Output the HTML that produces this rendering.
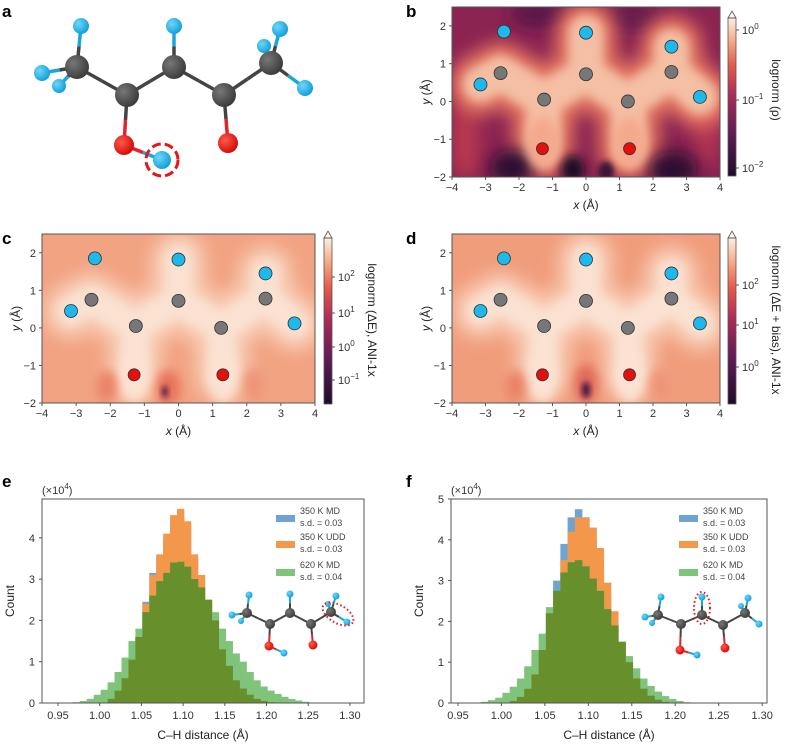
<!DOCTYPE html>
<html><head><meta charset="utf-8">
<style>
body{margin:0;background:#fff;}
svg{display:block;font-family:"Liberation Sans",sans-serif;}
.tk{font-size:11px;fill:#333;}
.ttl{font-size:12px;fill:#222;}
.pl{font-size:17px;font-weight:bold;fill:#000;}
.lg{font-size:9px;fill:#444;}
</style></head>
<body>
<svg id="fig" width="788" height="746" viewBox="0 0 788 746" xmlns="http://www.w3.org/2000/svg">
<defs>
  <filter id="blur8" x="-50%" y="-50%" width="200%" height="200%"><feGaussianBlur stdDeviation="8"/></filter>
  <filter id="blur5" x="-50%" y="-50%" width="200%" height="200%"><feGaussianBlur stdDeviation="5"/></filter>
  <filter id="blur3" x="-50%" y="-50%" width="200%" height="200%"><feGaussianBlur stdDeviation="3"/></filter>
  <linearGradient id="cbB" x1="0" y1="1" x2="0" y2="0">
    <stop offset="0" stop-color="#1e0c2c"/><stop offset="0.25" stop-color="#5a1a55"/>
    <stop offset="0.5" stop-color="#a82a58"/><stop offset="0.7" stop-color="#e45a4c"/>
    <stop offset="0.85" stop-color="#f6a884"/><stop offset="1" stop-color="#fcefe4"/>
  </linearGradient>
  <radialGradient id="hG" cx="0.35" cy="0.35" r="0.7"><stop offset="0" stop-color="#6fd6ff"/><stop offset="1" stop-color="#0f9ed3"/></radialGradient>
  <radialGradient id="cG" cx="0.35" cy="0.35" r="0.7"><stop offset="0" stop-color="#777"/><stop offset="1" stop-color="#3a3a3a"/></radialGradient>
  <radialGradient id="oG" cx="0.35" cy="0.35" r="0.7"><stop offset="0" stop-color="#ff5a4a"/><stop offset="1" stop-color="#d00a05"/></radialGradient>
  <clipPath id="clipB"><rect x="452" y="7" width="268" height="170"/></clipPath>
  <clipPath id="clipC"><rect x="42" y="234" width="273" height="169"/></clipPath>
  <clipPath id="clipD"><rect x="452" y="234" width="268" height="169"/></clipPath>
</defs>
<g id="root"></g>
</svg>
<script>
// ---------- data ----------
const atomsX = [-2.45, 0, 2.55, -3.15, 3.4, -2.55, 0, 2.55, -1.25, 1.25, -1.3, 1.3];
const atomsY = [1.85, 1.82, 1.45, 0.45, 0.12, 0.75, 0.72, 0.78, 0.05, 0.0, -1.25, -1.25];
const atomsType = ["H","H","H","H","H","C","C","C","C","C","O","O"];
const heatXTicks = [-4,-3,-2,-1,0,1,2,3,4];
const heatYTicks = [-2,-1,0,1,2];

const binStart = 0.972;
const binWidth = 0.00833;
const eBlue   = [0,0,0,0,0,0.1,0.3,0.6,1.02,1.6,2.45,3.15,3.55,4.0,4.45,4.55,4.3,3.5,3.0,2.4,1.95,1.25,0.87,0.53,0.33,0.19,0.1,0.05,0.02,0,0,0,0,0,0];
const eOrange = [0,0,0,0,0,0.1,0.3,0.6,1.05,1.6,2.4,3.1,3.6,4.1,4.55,4.7,4.4,3.6,3.1,2.5,2.0,1.3,0.9,0.55,0.35,0.2,0.1,0.05,0.02,0,0,0,0,0,0];
const eGreen  = [0.02,0.05,0.1,0.2,0.32,0.5,0.75,1.1,1.5,1.8,2.2,2.6,2.95,3.15,3.4,3.42,3.3,3.0,2.8,2.5,2.2,1.8,1.5,1.2,1.0,0.75,0.55,0.4,0.3,0.22,0.15,0.1,0.06,0.03,0.01];
const fBlue   = [0,0,0,0,0,0.05,0.15,0.35,0.7,1.3,2.2,3.0,3.9,4.55,4.75,4.55,4.0,3.35,2.6,1.9,1.3,0.85,0.5,0.28,0.14,0.06,0.02,0,0,0];
const fOrange = [0,0,0,0,0,0.04,0.12,0.3,0.6,1.2,1.9,2.6,3.5,4.2,4.55,4.55,4.3,3.8,2.95,2.25,1.5,1.0,0.6,0.35,0.18,0.08,0.03,0,0,0];
const fGreen  = [0.01,0.03,0.07,0.13,0.25,0.4,0.6,0.9,1.3,1.7,2.35,2.75,3.2,3.45,3.5,3.35,3.05,2.75,2.3,1.9,1.5,1.15,0.85,0.6,0.42,0.28,0.17,0.1,0.05,0.02];
const histXTicks = [0.95,1.00,1.05,1.10,1.15,1.20,1.25,1.30];
const eYTicks = [0,1,2,3,4];
const fYTicks = [0,1,2,3,4,5];

// ---------- helpers ----------
const NS="http://www.w3.org/2000/svg";
const root=document.getElementById('root');
function mk(tag,attrs,parent,txt){const e=document.createElementNS(NS,tag);for(const k in attrs)e.setAttribute(k,attrs[k]);if(txt!==undefined)e.textContent=txt;(parent||root).appendChild(e);return e;}
function txt(x,y,s,cls,parent,anchor,extra){const t=mk('text',Object.assign({x:x,y:y,class:cls,'text-anchor':anchor||'middle'},extra||{}),parent,s);return t;}
function sup(t,base,exp){t.textContent='';const a=document.createElementNS(NS,'tspan');a.textContent=base;t.appendChild(a);const b=document.createElementNS(NS,'tspan');b.setAttribute('dy','-5');b.setAttribute('font-size','8');b.textContent=exp;t.appendChild(b);}

// ---------- panel a ----------
const gA=mk('g',{});


txt(2,17,'a','pl',gA,'start');
const aAt={C1:[77,67,12],C2:[127,95,12],C3:[174,67,12],C4:[224,95,12],C5:[271,63,12],H1:[81,26,8],H2:[42,73,8],H3:[59,86,7],H4:[174,26,8],H5:[280,29,8],H6:[264,46,7],H7:[305,88,8],O1:[124,145,10],H8:[162,160,9],O2:[228,143,10]};
const aBonds=[['C1','C2'],['C2','C3'],['C3','C4'],['C4','C5'],['C1','H1'],['C1','H2'],['C1','H3'],['C3','H4'],['C5','H5'],['C5','H6'],['C5','H7'],['C2','O1'],['O1','H8'],['C4','O2']];
function drawMol(g,at,bonds,bw){
  bonds.forEach(b=>{const p=at[b[0]],q=at[b[1]];const mx=(p[0]+q[0])/2,my=(p[1]+q[1])/2;
    const col=n=>n[0]==='H'?'#1aa6dc':n[0]==='O'?'#e8202a':'#444';
    mk('line',{x1:p[0],y1:p[1],x2:mx,y2:my,stroke:col(b[0]),'stroke-width':bw},g);
    mk('line',{x1:mx,y1:my,x2:q[0],y2:q[1],stroke:col(b[1]),'stroke-width':bw},g);});
  Object.keys(at).forEach(k=>{const p=at[k];const f=k[0]==='H'?'url(#hG)':k[0]==='O'?'url(#oG)':'url(#cG)';
    const c=mk('circle',{cx:p[0],cy:p[1],r:p[2],fill:f},g);
    
    });
}
drawMol(gA,aAt,aBonds,3.5);
mk('circle',{cx:162,cy:160,r:16,fill:'none',stroke:'#e3161c','stroke-width':3,'stroke-dasharray':'9 4'},gA);

// ---------- heatmaps ----------
function heat(opt){
  const g=mk('g',{});
  
  
  const L=opt.x0,R=opt.x1,T=opt.y0,B=opt.y1;
  const sx=v=>L+(v+4)/8*(R-L);
  const sy=v=>B-(v+2)/4.5*(B-T);
  const gc=mk('g',{'clip-path':'url(#'+opt.clip+')'},g);
  mk('rect',{x:L,y:T,width:R-L,height:B-T,fill:opt.bg},gc);
  (opt.blobsUnder||[]).forEach(b=>mk('ellipse',{cx:sx(b[0]),cy:sy(b[1]),rx:b[2],ry:b[3],fill:b[4],filter:'url(#blur8)'},gc));
  const order=[3,5,8,10,8,6,1,6,9,11,9,7,2,7,4];
  let d='';order.forEach((i,k)=>{d+=(k?'L':'M')+sx(atomsX[i])+' '+sy(atomsY[i]);});
  mk('path',{d:d,fill:'none',stroke:opt.halo,'stroke-width':opt.hw,'stroke-linejoin':'round','stroke-linecap':'round',filter:'url(#blur8)',opacity:0.9},gc);
  mk('path',{d:d,fill:'none',stroke:opt.core,'stroke-width':opt.cw,'stroke-linejoin':'round','stroke-linecap':'round',filter:'url(#blur5)',opacity:0.85},gc);
  (opt.blobs||[]).forEach(b=>mk('ellipse',{cx:sx(b[0]),cy:sy(b[1]),rx:b[2],ry:b[3],fill:b[4],filter:'url('+(b[5]||'#blur5')+')'},gc));
  mk('rect',{x:L,y:T,width:R-L,height:B-T,fill:'none',stroke:'#555','stroke-width':1},g);
  atomsX.forEach((x,i)=>{const t=atomsType[i];
    const c=mk('circle',{cx:sx(x),cy:sy(atomsY[i]),r:t==='O'?6:6.5,fill:t==='H'?'#1fb8ea':t==='C'?'#777':'#e40f0f',stroke:'#333','stroke-width':0.8},g);
    
    });
  heatXTicks.forEach(v=>{mk('line',{x1:sx(v),x2:sx(v),y1:B,y2:B+3,stroke:'#555'},g);
    txt(sx(v),B+14,(v<0?'\u2212':'')+Math.abs(v),'tk',g);});
  heatYTicks.forEach(v=>{mk('line',{x1:L-3,x2:L,y1:sy(v),y2:sy(v),stroke:'#555'},g);
    txt(L-6,sy(v)+4,(v<0?'\u2212':'')+Math.abs(v),'tk',g,'end');});
  const xt=txt((L+R)/2,B+32,'','ttl',g);xt.innerHTML='<tspan font-style="italic">x</tspan> (Å)';
  const yt=txt(0,0,'','ttl',g,'middle',{transform:'translate('+(L-22)+','+sy(0.25)+') rotate(-90)'});yt.innerHTML='<tspan font-style="italic">y</tspan> (Å)';
  const cb=mk('g',{},g);
  
  
  const cx=opt.cbx,cw=8;
  mk('rect',{x:cx,y:opt.cbt,width:cw,height:opt.cbb-opt.cbt,fill:opt.cbFill},cb);
  mk('path',{d:`M${cx} ${opt.cbt}L${cx+cw/2} ${opt.cbt-7}L${cx+cw} ${opt.cbt}Z`,fill:'#fdf3ea',stroke:'#555','stroke-width':0.8},cb);
  mk('rect',{x:cx,y:opt.cbt,width:cw,height:opt.cbb-opt.cbt,fill:'none',stroke:'#555','stroke-width':0.8},cb);
  opt.cbTicks.forEach(t=>{mk('line',{x1:cx+cw,x2:cx+cw+3,y1:t[0],y2:t[0],stroke:'#555'},cb);
    const tt=txt(cx+cw+6,t[0]+4,'','tk',cb,'start');sup(tt,'10',t[1]);});
  const lab=txt(0,0,opt.cbLabel,'ttl',cb,'middle',{transform:'translate('+opt.lx+','+opt.ly+') rotate(90)'});
  
  
  txt(opt.px,opt.py,opt.letter,'pl',g,'start');
}
heat({name:'heatmap-density-b',letter:'b',px:406,py:17,x0:452,x1:720,y0:7,y1:177,clip:'clipB',bg:'#8c2452',
  blobsUnder:[[-1.4,2.3,30,14,'#5a1848'],[1.4,2.2,28,14,'#661a4c'],[-3.6,-1.0,14,40,'#b8384f'],[3.6,-0.6,14,40,'#b23652']],
  halo:'#ea7a60',hw:62,core:'#f8cdb0',cw:36,
  blobs:[[-2.2,-1.75,22,18,'#2a0f30','#blur8'],[-0.4,-1.8,12,14,'#1e0b28','#blur5'],[2.6,-1.8,24,18,'#2a0f30','#blur8'],[0.6,-1.85,8,10,'#3a1238','#blur3'],
    [-1.3,-1.1,16,26,'#f4a98c','#blur5'],[1.3,-1.1,16,26,'#f4a98c','#blur5']],
  cbx:728,cbt:18,cbb:176,cbFill:'url(#cbB)',cbTicks:[[30,'0'],[100,'\u22121'],[168,'\u22122']],cbLabel:'lognorm (ρ)',lx:772,ly:90});
heat({name:'heatmap-error-c',letter:'c',px:2,py:244,x0:42,x1:315,y0:234,y1:403,clip:'clipC',bg:'#f1a382',
  blobsUnder:[],halo:'#f8cdb6',hw:56,core:'#fbe6d8',cw:30,
  blobs:[[-1.3,-1.3,14,26,'#fbe2d2','#blur5'],[1.3,-1.3,14,26,'#fbe2d2','#blur5'],[-2.1,-1.55,10,16,'#ea8268','#blur5'],[-0.3,-1.6,12,18,'#e8735a','#blur5'],[2.2,-1.5,10,16,'#ef9478','#blur5'],[-0.4,-1.7,3,6,'#4a1444','#blur3']],
  cbx:324,cbt:238,cbb:404,cbFill:'url(#cbB)',cbTicks:[[277,'2'],[313,'1'],[347,'0'],[380,'\u22121']],cbLabel:'lognorm (ΔE), ANI-1x',lx:368,ly:320});
heat({name:'heatmap-error-bias-d',letter:'d',px:406,py:244,x0:452,x1:720,y0:234,y1:403,clip:'clipD',bg:'#f09d7c',
  blobsUnder:[],halo:'#f8cbb4',hw:56,core:'#fbe6d8',cw:30,
  blobs:[[-1.3,-1.3,14,26,'#fbe2d2','#blur5'],[1.3,-1.3,14,26,'#fbe2d2','#blur5'],[-2.1,-1.55,10,16,'#ea8268','#blur5'],[0,-1.5,12,20,'#e06a5a','#blur5'],[2.2,-1.5,10,16,'#ef9478','#blur5'],[0,-1.65,4,8,'#3a1040','#blur3']],
  cbx:728,cbt:238,cbb:404,cbFill:'url(#cbB)',cbTicks:[[285,'2'],[325,'1'],[367,'0']],cbLabel:'lognorm (ΔE + bias), ANI-1x',lx:772,ly:320});

// ---------- histograms ----------
function hist(opt){
  const g=mk('g',{});
  
  
  const sx=v=>opt.xa+(v-0.95)*opt.xk, sy=v=>opt.B-v*opt.yk;
  const bars=(arr,col,nm)=>arr.forEach((v,i)=>{if(v<=0)return;const x0=sx(binStart+i*binWidth-binWidth/2),x1=sx(binStart+i*binWidth+binWidth/2);
    const r=mk('rect',{x:x0,y:sy(v),width:x1-x0+0.3,height:opt.B-sy(v),fill:col},g);
    
    });
  bars(opt.blue,'#6fa3d2','bar-350k-md');
  bars(opt.orange,'#f3984a','bar-350k-udd');
  bars(opt.green,'#80c47c','bar-620k-md');
  bars(opt.green.map((v,i)=>Math.min(v,Math.max(opt.orange[i],opt.blue[i]))),'#67902d','bar-overlap');
  mk('rect',{x:opt.L,y:opt.T,width:opt.R-opt.L,height:opt.B-opt.T,fill:'none',stroke:'#555','stroke-width':1},g);
  histXTicks.forEach(v=>{mk('line',{x1:sx(v),x2:sx(v),y1:opt.B,y2:opt.B+3,stroke:'#555'},g);txt(sx(v),opt.B+16,v.toFixed(2),'tk',g);});
  opt.yt.forEach(v=>{mk('line',{x1:opt.L-3,x2:opt.L,y1:sy(v),y2:sy(v),stroke:'#555'},g);txt(opt.L-7,sy(v)+4,String(v),'tk',g,'end');});
  txt((opt.L+opt.R)/2,opt.B+36,'C\u2013H distance (Å)','ttl',g);
  txt(0,0,'Count','ttl',g,'middle',{transform:'translate('+(opt.L-28)+','+((opt.T+opt.B)/2)+') rotate(-90)'});
  const s=txt(opt.L,opt.T-5,'','tk',g,'start');s.innerHTML='(×10<tspan dy="-5" font-size="8">4</tspan><tspan dy="5">)</tspan>';
  txt(opt.px,opt.T-12,opt.letter,'pl',g,'start');
  const leg=[['350 K MD','s.d. = 0.03','#6fa3d2',515],['350 K UDD','s.d. = 0.03','#f3984a',541],['620 K MD','s.d. = 0.04','#80c47c',569]];
  leg.forEach(l=>{const lg=mk('g',{},g);
    
    
    mk('rect',{x:opt.lgx,y:l[3],width:19,height:7,fill:l[2]},lg);
    txt(opt.lgx+24,l[3]-1,l[0],'lg',lg,'start');txt(opt.lgx+24,l[3]+11,l[1],'lg',lg,'start');});
  const mg=mk('g',{},g);
  
  
  drawMol(mg,opt.mol,aBonds,2);
  mk('ellipse',{cx:opt.ell[0],cy:opt.ell[1],rx:opt.ell[2],ry:opt.ell[3],transform:`rotate(${opt.ell[4]} ${opt.ell[0]} ${opt.ell[1]})`,fill:'none',stroke:'#e3161c','stroke-width':2,'stroke-dasharray':'1.5 2.5'},mg);
}
const molE={C1:[247,613,5],C2:[270,624,5],C3:[290,613,5],C4:[311,624,5],C5:[331,612,5],H1:[249,595,3.5],H2:[232,615,3.5],H3:[241,621,3],H4:[290,594,3.5],H5:[336,596,3.5],H6:[328,604,3],H7:[347,622,3.5],O1:[269,646,4.5],H8:[284,653,3.5],O2:[313,645,4.5]};
const molF={C1:[658,615,5],C2:[681,624,5],C3:[702,615,5],C4:[723,625,5],C5:[745,613,5],H1:[661,597,3.5],H2:[645,617,3.5],H3:[652,623,3],H4:[702,597,3.5],H5:[748,598,3.5],H6:[741,606,3],H7:[759,624,3.5],O1:[680,650,4.5],H8:[697,655,3.5],O2:[725,648,4.5]};
hist({name:'histogram-e',letter:'e',px:2,L:42,R:364,T:499,B:703,xa:58,xk:834,yk:41.3,blue:eBlue,orange:eOrange,green:eGreen,yt:eYTicks,lgx:276,mol:molE,ell:[338,614,17,9,30]});
hist({name:'histogram-f',letter:'f',px:406,L:451,R:767,T:499,B:703,xa:458,xk:869,yk:40.8,blue:fBlue,orange:fOrange,green:fGreen,yt:fYTicks,lgx:679,mol:molF,ell:[702,608,8,16,0]});
</script>
</body></html>
